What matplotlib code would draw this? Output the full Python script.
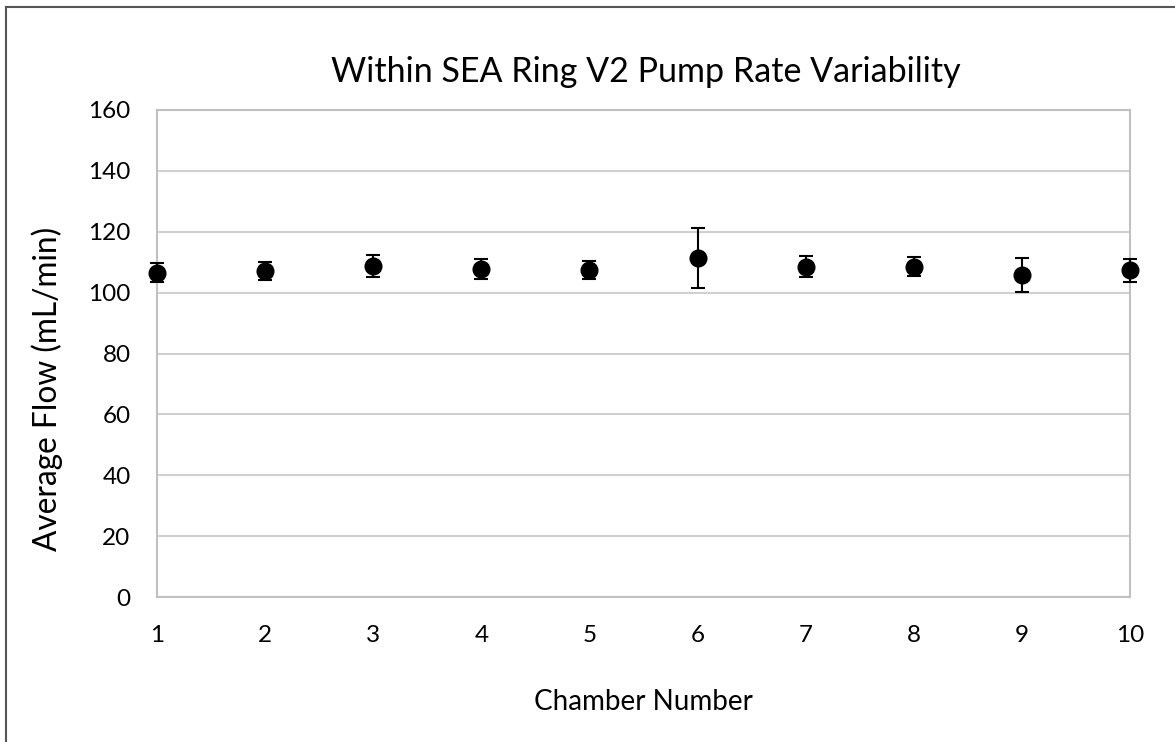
import matplotlib
matplotlib.use("Agg")
import matplotlib.pyplot as plt
from matplotlib.lines import Line2D

chambers = [1, 2, 3, 4, 5, 6, 7, 8, 9, 10]
avg_flow = [106.5, 107.2, 108.8, 107.7, 107.4, 111.3, 108.5, 108.5, 105.8, 107.4]
flow_err = [3.1, 3.0, 3.6, 3.2, 3.0, 9.9, 3.5, 3.1, 5.7, 3.8]
y_ticks = [0, 20, 40, 60, 80, 100, 120, 140, 160]

plt.rcParams['font.family'] = ['Lato', 'DejaVu Sans']

fig = plt.figure(figsize=(11.75, 7.42), dpi=100)
ax = fig.add_axes([157/1175, 1-597/742, (1130-157)/1175, (597-110)/742])

ax.errorbar(chambers, avg_flow, yerr=flow_err, fmt='o', color='black',
            markersize=12, elinewidth=1.5, capsize=5, capthick=1.5,
            clip_on=False, zorder=3)

ax.set_xlim(1, 10)
ax.set_ylim(0, 160)
ax.set_xticks(chambers)
ax.set_yticks(y_ticks)
ax.tick_params(axis='both', length=0, labelsize=17.5, colors='black')
ax.tick_params(axis='x', pad=20)
ax.tick_params(axis='y', pad=19)
ax.grid(axis='y', color='#d0d0d0', linewidth=1.5)
ax.set_axisbelow(True)
for s in ax.spines.values():
    s.set_color('#c0c0c0')
    s.set_linewidth(1.5)

ax.set_xlabel('Chamber Number', fontsize=20, labelpad=31)
ax.set_ylabel('Average Flow (mL/min)', fontsize=22.8)
ax.yaxis.set_label_coords(-(157-63)/973, (597-389)/487)
fig.text(646/1175, 1-72/742, 'Within SEA Ring V2 Pump Rate Variability',
         fontsize=24.5, ha='center', va='center')

# outer chart border (top & left visible)
fig.add_artist(Line2D([6/1175, 1], [1-7/742, 1-7/742], transform=fig.transFigure,
                      color='#555555', linewidth=1.5))
fig.add_artist(Line2D([6/1175, 6/1175], [0, 1-7/742], transform=fig.transFigure,
                      color='#555555', linewidth=1.5))

fig.savefig('out.png', dpi=100)
